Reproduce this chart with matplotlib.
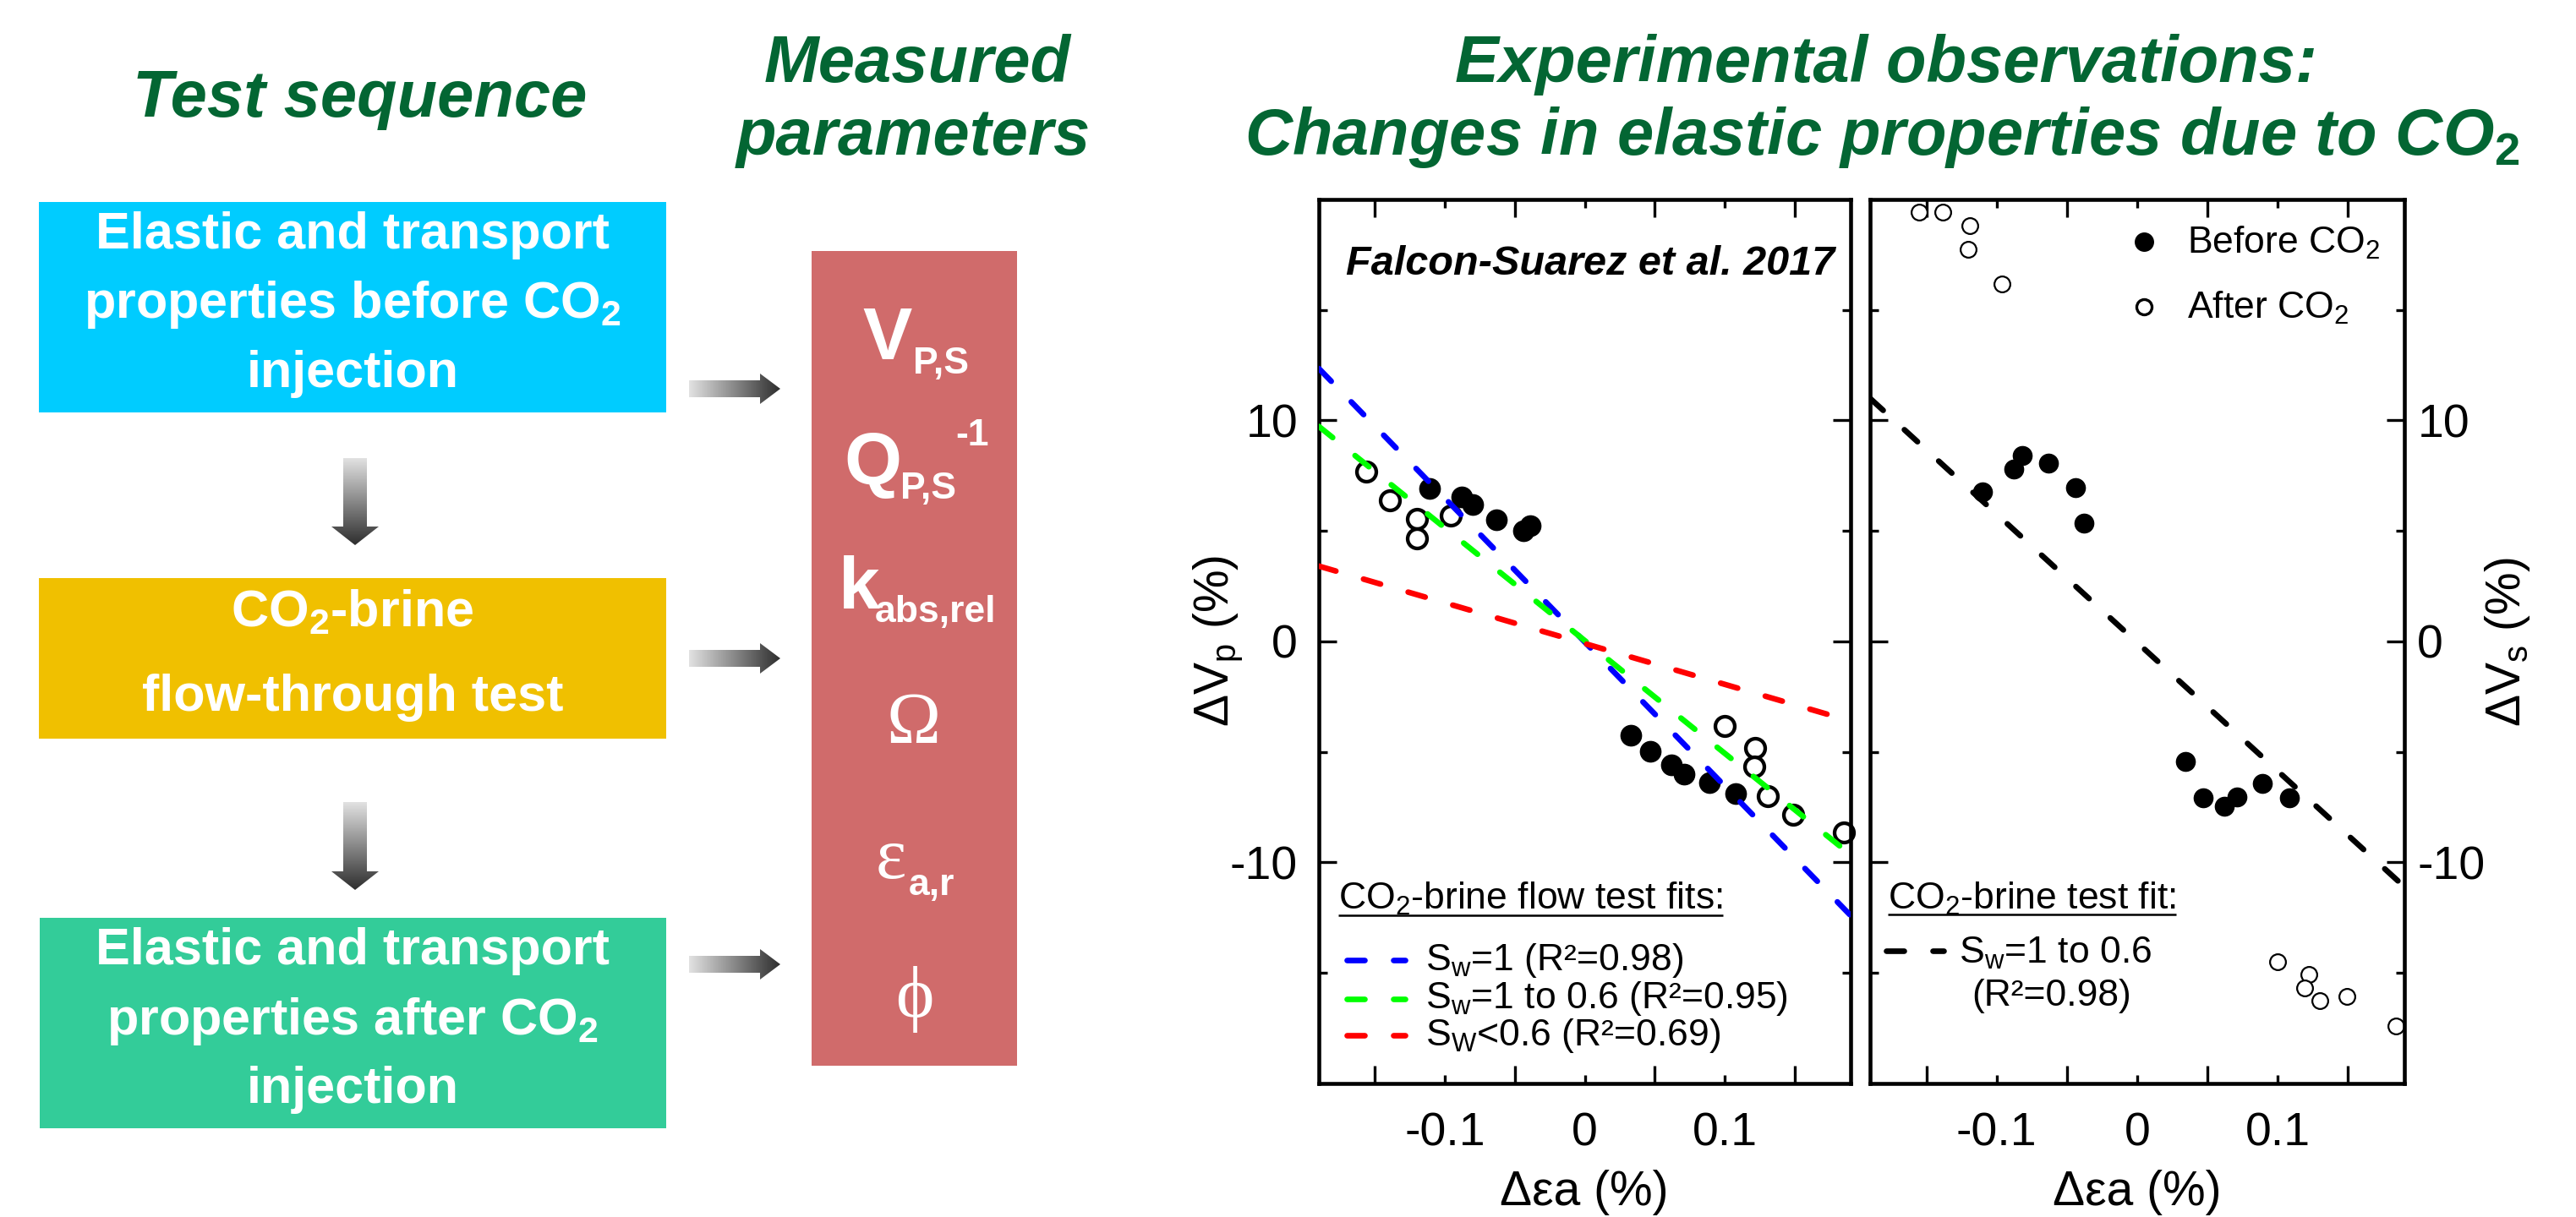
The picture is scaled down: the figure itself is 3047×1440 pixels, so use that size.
import numpy as np
import matplotlib
matplotlib.use("Agg")
import matplotlib.pyplot as plt
from matplotlib.patches import Rectangle, Polygon
from matplotlib.colors import LinearSegmentedColormap

plt.rcParams['font.family'] = ['Liberation Sans', 'DejaVu Sans']
plt.rcParams['mathtext.fontset'] = 'custom'
plt.rcParams['mathtext.rm'] = 'Liberation Sans'
plt.rcParams['mathtext.it'] = 'Liberation Sans:italic'
plt.rcParams['mathtext.bf'] = 'Liberation Sans:bold'

W, H = 3047, 1440
GREEN = '#036633'

# --- data ---
# left panel: dVp vs d eps_a
vp_before_x = [-0.111, -0.088, -0.080, -0.063, -0.044, -0.039, 0.033, 0.047, 0.062, 0.071, 0.089, 0.108]
vp_before_y = [6.93, 6.53, 6.19, 5.49, 5.01, 5.25, -4.24, -4.99, -5.57, -6.00, -6.40, -6.90]
vp_after_x = [-0.156, -0.139, -0.120, -0.120, -0.096, 0.100, 0.122, 0.121, 0.131, 0.149, 0.185]
vp_after_y = [7.68, 6.40, 5.55, 4.67, 5.68, -3.84, -4.80, -5.65, -6.99, -7.84, -8.64]

# right panel: dVs vs d eps_a
vs_before_x = [-0.110, -0.088, -0.082, -0.063, -0.044, -0.038, 0.034, 0.047, 0.062, 0.071, 0.089, 0.108]
vs_before_y = [6.75, 7.81, 8.43, 8.08, 6.96, 5.36, -5.44, -7.07, -7.44, -7.04, -6.43, -7.07]
vs_after_x = [-0.155, -0.138, -0.119, -0.120, -0.096, 0.100, 0.122, 0.119, 0.130, 0.149, 0.184]
vs_after_y = [19.41, 19.41, 18.80, 17.73, 16.16, -14.50, -15.07, -15.68, -16.27, -16.08, -17.39]

# fitted lines (end points)
fit_x = [-0.19, 0.19]
fit_sw1 = [12.35, -12.40]
fit_sw1_06 = [9.73, -9.65]
fit_sw_lt06 = [3.41, -3.60]
fit_vs = [11.00, -11.10]

x_major = [-0.15, -0.05, 0.05, 0.15]
x_labeled = [-0.1, 0, 0.1]
x_labels = ['-0.1', '0', '0.1']
y_major = [-10, 0, 10]
y_labels = ['-10', '0', '10']
y_minor = [-15, -5, 5, 15]

fig = plt.figure(figsize=(W / 100, H / 100), dpi=100)

ax1 = fig.add_axes([1560 / W, 1 - 1282 / H, 629 / W, 1046 / H])
ax2 = fig.add_axes([2212 / W, 1 - 1282 / H, 632 / W, 1046 / H])

DASH = dict(lw=4.8, dashes=(3.15, 5.1), dash_capstyle='round')


def style_axes(ax, right_labels):
    ax.set_xlim(-0.19, 0.19)
    ax.set_ylim(-20, 20)
    ax.set_xticks(x_major)
    ax.set_xticklabels([])
    ax.set_xticks(x_labeled, minor=True)
    ax.set_xticklabels(x_labels, minor=True)
    ax.set_yticks(y_major)
    ax.set_yticklabels(y_labels)
    ax.set_yticks(y_minor, minor=True)
    ax.tick_params(which='both', direction='in', top=True, right=True,
                   left=True, bottom=True, width=2.4, labelsize=40)
    ax.tick_params(which='major', length=15)
    ax.tick_params(which='minor', length=7)
    ax.tick_params(axis='x', which='both', pad=24)
    if right_labels:
        ax.tick_params(axis='y', which='both', labelleft=False, labelright=True, pad=11)
    else:
        ax.tick_params(axis='y', which='both', pad=18)
    for sp in ax.spines.values():
        sp.set_linewidth(3.3)


# left panel
ax1.plot(vp_before_x, vp_before_y, 'o', color='black', ms=17.5, zorder=2, clip_on=False)
ax1.plot(vp_after_x, vp_after_y, 'o', mfc='white', mec='black', ms=16.5, mew=3.1, zorder=2, clip_on=False)
ax1.plot(fit_x, fit_sw1, color='#0000ff', zorder=3, **DASH)
ax1.plot(fit_x, fit_sw1_06, color='#00ff00', zorder=3, **DASH)
ax1.plot(fit_x, fit_sw_lt06, color='#ff0000', zorder=3, **DASH)
style_axes(ax1, False)

# right panel
ax2.plot(vs_before_x, vs_before_y, 'o', color='black', ms=16, zorder=2, clip_on=False)
ax2.plot(vs_after_x, vs_after_y, 'o', mfc='white', mec='black', ms=13.5, mew=1.6, zorder=2, clip_on=False)
ax2.plot(fit_x, fit_vs, color='black', zorder=3, **DASH)
style_axes(ax2, True)

# overlay in pixel coordinates
bg = fig.add_axes([0, 0, 1, 1], zorder=5)
bg.axis('off')
bg.patch.set_visible(False)


def txt(x, y, s, **kw):
    kw.setdefault('va', 'baseline')
    return bg.text(x, y, s, **kw)


gray = LinearSegmentedColormap.from_list('arrowgray', ['#e2e2e2', '#2e2e2e'])


def grad_arrow(verts, vertical):
    poly = Polygon(verts, closed=True, facecolor='none', edgecolor='none')
    bg.add_patch(poly)
    xs = [v[0] for v in verts]
    ys = [v[1] for v in verts]
    g = np.linspace(0, 1, 256)
    img = g[:, None] if vertical else g[None, :]
    im = bg.imshow(img, cmap=gray, vmin=0, vmax=1, aspect='auto',
                   extent=[min(xs), max(xs), max(ys), min(ys)], origin='upper')
    im.set_clip_path(poly)


# flow boxes
boxes = [(46, 239, 788, 488, '#00ccff'),
         (46, 684, 788, 874, '#f0c000'),
         (47, 1086, 788, 1335, '#33cc99'),
         (960, 297, 1203, 1261, '#d06b6b')]
for x0, y0, x1, y1, c in boxes:
    bg.add_patch(Rectangle((x0, y0), x1 - x0, y1 - y0, facecolor=c, edgecolor='none'))

BOX = dict(color='white', fontsize=44, fontweight='bold', ha='center')
txt(417, 294, 'Elastic and transport', **BOX)
txt(417, 376, r'properties before CO$_\mathbf{2}$', **BOX)
txt(417, 458, 'injection', **BOX)
txt(417, 741, r'CO$_\mathbf{2}$-brine', **BOX)
txt(417, 841, 'flow-through test', **BOX)
txt(417, 1141, 'Elastic and transport', **BOX)
txt(417, 1224, r'properties after CO$_\mathbf{2}$', **BOX)
txt(417, 1305, 'injection', **BOX)

# arrows
for y0, y1 in [(542, 645), (949, 1053)]:
    hy = y1 - 22
    grad_arrow([(406, y0), (434, y0), (434, hy), (448, hy), (420, y1),
                (392, hy), (406, hy)], True)
for yc in [460, 779, 1141]:
    grad_arrow([(815, yc - 10), (899, yc - 10), (899, yc - 18), (923, yc),
                (899, yc + 18), (899, yc + 10), (815, yc + 10)], False)

# measured parameters
BIG = dict(color='white', fontsize=63, fontweight='bold')
SUB = dict(color='white', fontsize=32, fontweight='bold')
SER = dict(color='white', fontsize=62, family=['Liberation Serif', 'DejaVu Serif'])
txt(1020, 425, 'V', **BIG)
txt(1080, 442, 'P,S', **SUB)
txt(998, 573, 'Q', **BIG)
txt(1065, 590, 'P,S', **SUB)
txt(1130, 527, '-1', **SUB)
txt(992, 720, 'k', **BIG)
txt(1035, 736, 'abs,rel', **SUB)
txt(1081, 879, 'Ω', ha='center', **SER)
txt(1036, 1039, 'ε', **SER)
txt(1075, 1059, 'a,r', **SUB)
txt(1082, 1182, 'ϕ', ha='center', va='center', **SER)

# headings
HEAD = dict(color=GREEN, fontsize=56, fontweight='bold', fontstyle='italic', ha='center')
txt(426, 138, 'Test sequence', **HEAD)
txt(1085, 97, 'Measured', **HEAD)
txt(1080, 183, 'parameters', **HEAD)
txt(2231, 97, 'Experimental observations:', **HEAD)
txt(2226, 183, r'Changes in elastic properties due to CO$_\mathbf{2}$', **HEAD)

# axis labels
txt(1441, 758, r'ΔV$_\mathrm{p}$ (%)', fontsize=41, rotation=90, ha='center', va='center')
txt(2966, 760, r'ΔV$_\mathrm{s}$ (%)', fontsize=41, rotation=90, ha='center', va='center')
txt(1874, 1411, 'Δεa (%)', fontsize=41, ha='center', va='center')
txt(2528, 1411, 'Δεa (%)', fontsize=41, ha='center', va='center')

# annotations inside the plots
txt(2170, 325, 'Falcon-Suarez et al. 2017', fontsize=35, fontweight='bold',
    fontstyle='italic', ha='right')

bg.plot([2536], [286], 'o', color='black', ms=15.5)
bg.plot([2536], [363], 'o', mfc='white', mec='black', ms=13, mew=2.4)
txt(2587, 300, r'Before CO$_2$', fontsize=32)
txt(2587, 377, r'After CO$_2$', fontsize=32)

LEG = dict(fontsize=32)
h1 = txt(1583, 1076, r'CO$_2$-brine flow test fits:', **LEG)
for y, c in [(1136, '#0000ff'), (1182, '#00ff00'), (1225, '#ff0000')]:
    bg.plot([1593, 1662], [y, y], color=c, **DASH)
txt(1686, 1148, r'S$_\mathrm{w}$=1 (R²=0.98)', **LEG)
txt(1686, 1193, r'S$_\mathrm{w}$=1 to 0.6 (R²=0.95)', **LEG)
txt(1686, 1237, r'S$_\mathrm{W}$<0.6 (R²=0.69)', **LEG)

h2 = txt(2233, 1076, r'CO$_2$-brine test fit:', **LEG)
bg.plot([2231, 2299], [1125, 1125], color='black', **DASH)
txt(2317, 1140, r'S$_\mathrm{w}$=1 to 0.6', **LEG)
txt(2332, 1190, '(R²=0.98)', **LEG)

bg.set_xlim(0, W)
bg.set_ylim(H, 0)

# underline the two legend headings
fig.canvas.draw()
for h, y in [(h1, 1083), (h2, 1082)]:
    bb = h.get_window_extent()
    bg.plot([bb.x0, bb.x1], [y, y], color='black', lw=1.8, solid_capstyle='butt')
bg.set_xlim(0, W)
bg.set_ylim(H, 0)

fig.savefig('out.png', dpi=100)
